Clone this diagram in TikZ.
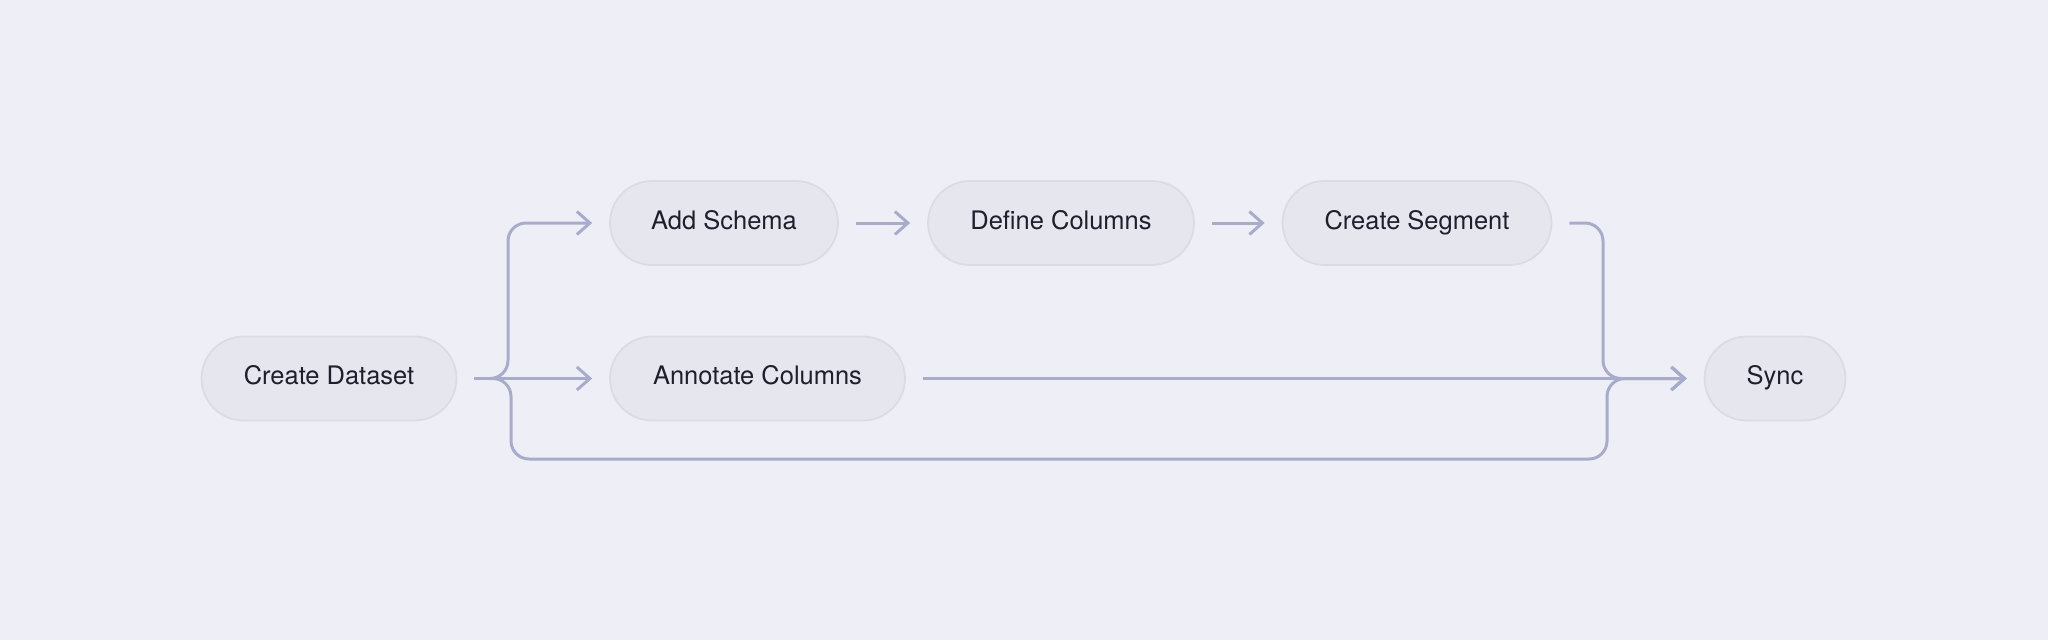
\documentclass[tikz,border=0pt]{standalone}
\usepackage{fontspec}
\setmainfont{TeX Gyre Heros}
\usetikzlibrary{arrows.meta}
\definecolor{bg}{RGB}{238,239,246}
\definecolor{pillfill}{RGB}{229,230,238}
\definecolor{pilldraw}{RGB}{218,219,229}
\definecolor{wirecol}{RGB}{168,172,203}
\definecolor{ink}{RGB}{30,30,44}
\tikzset{
  pill/.style={draw=pilldraw,fill=pillfill,line width=1pt,rounded corners=0.84cm,
    minimum height=1.68cm,inner xsep=0pt,text=ink,text height=0.72em,text depth=0pt,
    font=\fontsize{14.5}{17}\selectfont},
  wire/.style={draw=wirecol,line width=0.06cm,rounded corners=0.36cm},
  tip/.style={-{Straight Barb[length=0.26cm,width=0.46cm]},shorten >=0.34cm},
  gap/.style={shorten <=0.34cm},
}
\begin{document}
\begin{tikzpicture}[x=0.02cm,y=-0.02cm]
\fill[bg] (0,0) rectangle (2048,640);
\useasboundingbox (0,0) rectangle (2048,640);

\node[name=D,pill,minimum width=5.1cm] at (329,378.5) {Create Dataset};
\node[name=S,pill,minimum width=4.56cm] at (724,223) {Add Schema};
\node[name=C,pill,minimum width=5.32cm] at (1061,223) {Define Columns};
\node[name=G,pill,minimum width=5.38cm] at (1417,223) {Create Segment};
\node[name=A,pill,minimum width=5.9cm] at (757.5,378.5) {Annotate Columns};
\node[name=Y,pill,minimum width=2.82cm] at (1775,378.5) {Sync};

\coordinate (fork) at (490,378.5);
\coordinate (forkU) at (508,223);
\coordinate (forkL) at (511,459);
\coordinate (joinL) at (1607,459);
\coordinate (joinU) at (1603,378.5);

\draw[wire,gap] (D.east) -- (fork);
\draw[wire,tip] (fork) -| (forkU) -- (S.west);
\draw[wire,tip] (fork) -- (A.west);
\draw[wire,tip] (fork) -| (forkL) -- (joinL) |- (Y.west);

\draw[wire,gap,tip] (S) -- (C);
\draw[wire,gap,tip] (C) -- (G);
\draw[wire,gap,tip] (G.east) -| (joinU) -- (Y.west);
\draw[wire,gap,tip] (A.east) -- (Y.west);
\end{tikzpicture}
\end{document}
